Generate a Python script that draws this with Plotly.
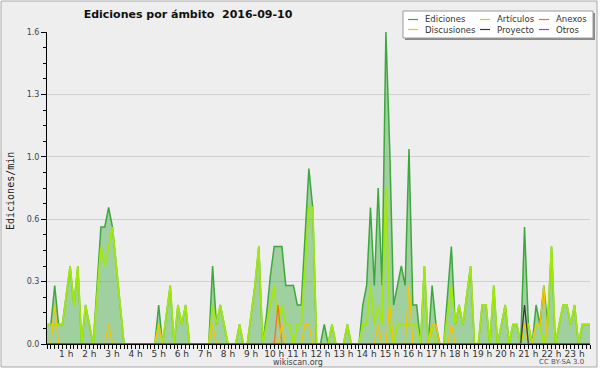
import plotly.graph_objects as go

# ---- data (edits per minute, 10-minute buckets starting 00:10) ----
ediciones = [
    0.1, 0.1, 0.3, 0.1, 0.1, 0.25, 0.4, 0.2, 0.4, 0,
    0.2, 0.1, 0, 0.3, 0.6, 0.6, 0.7, 0.6, 0.4, 0.2,
    0, 0, 0, 0, 0, 0, 0, 0, 0, 0.2,
    0, 0.15, 0.3, 0, 0.2, 0.1, 0.2, 0, 0, 0,
    0, 0, 0, 0.4, 0.1, 0.2, 0.1, 0, 0, 0,
    0.1, 0, 0, 0.15, 0.3, 0.5, 0, 0.15, 0.35, 0.5,
    0.5, 0.5, 0.3, 0.3, 0.3, 0.2, 0.2, 0.55, 0.9, 0.7,
    0, 0, 0.1, 0, 0.1, 0, 0, 0, 0.1, 0,
    0, 0, 0.2, 0.3, 0.7, 0.3, 0.8, 0.3, 1.6, 1.0,
    0.2, 0.3, 0.4, 0.3, 1.0, 0.2, 0.2, 0, 0.4, 0,
    0.3, 0.1, 0, 0, 0.25, 0.5, 0.1, 0.2, 0.1, 0.25,
    0.4, 0, 0, 0.2, 0.2, 0, 0.3, 0, 0.1, 0.2,
    0, 0.1, 0.1, 0, 0.6, 0.1, 0, 0.2, 0.1, 0.3,
    0.1, 0.5, 0, 0.1, 0.2, 0.2, 0.1, 0.2, 0, 0.1,
    0.1, 0.1,
]
articulos = [
    0.1, 0.1, 0.1, 0.1, 0.1, 0.25, 0.4, 0.2, 0.4, 0,
    0.2, 0.1, 0, 0.25, 0.5, 0.4, 0.5, 0.6, 0.4, 0.2,
    0, 0, 0, 0, 0, 0, 0, 0, 0, 0.1,
    0, 0.15, 0.3, 0, 0.2, 0.1, 0.2, 0, 0, 0,
    0, 0, 0, 0.2, 0.1, 0.2, 0.1, 0, 0, 0,
    0.1, 0, 0, 0.15, 0.3, 0.5, 0, 0.1, 0.2, 0.3,
    0.1, 0.2, 0.1, 0.1, 0, 0.1, 0.1, 0.4, 0.7, 0.7,
    0, 0, 0, 0, 0.1, 0, 0, 0, 0.1, 0,
    0, 0, 0.1, 0.1, 0.3, 0.1, 0.2, 0.1, 0.8, 0.1,
    0, 0.1, 0.1, 0.1, 0.1, 0.1, 0.1, 0, 0.4, 0,
    0.1, 0, 0, 0, 0.15, 0.3, 0.1, 0.2, 0.1, 0.25,
    0.4, 0, 0, 0.2, 0.2, 0, 0.3, 0, 0.1, 0.2,
    0, 0.1, 0.1, 0, 0.1, 0.1, 0, 0.1, 0.1, 0,
    0.1, 0.5, 0, 0.1, 0.2, 0.2, 0.1, 0.2, 0, 0.1,
    0.1, 0.1,
]
anexos = [0] * 60 + [0.2] + [0] * 81
discusiones = [
    0, 0, 0.2, 0, 0, 0, 0, 0, 0, 0,
    0, 0, 0, 0, 0, 0, 0.1, 0, 0, 0,
    0, 0, 0, 0, 0, 0, 0, 0, 0, 0.1,
    0, 0, 0, 0, 0, 0, 0, 0, 0, 0,
    0, 0, 0, 0.1, 0, 0, 0, 0, 0, 0,
    0, 0, 0, 0, 0, 0, 0, 0, 0, 0,
    0, 0.1, 0, 0, 0, 0, 0, 0.1, 0.1, 0,
    0, 0, 0, 0, 0, 0, 0, 0, 0, 0,
    0, 0, 0, 0, 0, 0, 0.1, 0, 0, 0.2,
    0, 0, 0, 0, 0.3, 0, 0, 0, 0, 0,
    0.1, 0.1, 0, 0, 0, 0.1, 0, 0, 0, 0,
    0, 0, 0, 0, 0, 0, 0, 0, 0, 0,
    0, 0, 0, 0, 0.1, 0, 0, 0.1, 0.1, 0.3,
    0, 0, 0, 0, 0, 0, 0, 0, 0, 0,
    0, 0,
]
proyecto = [0] * 124 + [0.2] + [0] * 17
otros = [0] * 142

hour_labels = ["1 h", "2 h", "3 h", "4 h", "5 h", "6 h", "7 h", "8 h", "9 h", "10 h",
               "11 h", "12 h", "13 h", "14 h", "15 h", "16 h", "17 h", "18 h", "19 h",
               "20 h", "21 h", "22 h", "23 h"]
y_tick_vals = [0, 0.32, 0.64, 0.96, 1.28, 1.6]
y_tick_text = ["0.0", "0.3", "0.6", "1.0", "1.3", "1.6"]

minutes = [10 * (k + 1) for k in range(len(ediciones))]
hour_pos = [60 * (k + 1) for k in range(len(hour_labels))]

C_ED = "#3ea83e"
C_ART = "#a2e80c"
C_ANX = "#ff6a33"
C_DIS = "#f7c500"
C_PRO = "#3a3a3a"
C_OTR = "#9a3cff"

fig = go.Figure()
fig.add_trace(go.Scatter(x=minutes, y=ediciones, mode="lines", name="Ediciones",
                         line=dict(color=C_ED, width=1.5), fill="tozeroy",
                         fillcolor="rgba(68,170,68,0.46)", showlegend=False))
fig.add_trace(go.Scatter(x=minutes, y=articulos, mode="lines", name="Artículos",
                         line=dict(color=C_ART, width=1.8), showlegend=False))
fig.add_trace(go.Scatter(x=minutes, y=anexos, mode="lines", name="Anexos",
                         line=dict(color=C_ANX, width=1.3), showlegend=False))
fig.add_trace(go.Scatter(x=minutes, y=discusiones, mode="lines", name="Discusiones",
                         line=dict(color=C_DIS, width=1.3), showlegend=False))
fig.add_trace(go.Scatter(x=minutes, y=proyecto, mode="lines", name="Proyecto",
                         line=dict(color=C_PRO, width=1.3), showlegend=False))
fig.add_trace(go.Scatter(x=minutes, y=otros, mode="lines", name="Otros",
                         line=dict(color=C_OTR, width=1), showlegend=False))

L, R, T, B = 47, 10, 32, 26
W, H = 600, 370
PW, PH = W - L - R, H - T - B


def px(x):
    return (x - L) / PW


def py(y):
    return (H - B - y) / PH


shapes = [
    # outer frame
    dict(type="rect", xref="paper", yref="paper", x0=px(1), x1=px(597), y0=py(1), y1=py(367),
         line=dict(color="#a8a8a8", width=1), fillcolor="#eeeeee", layer="below"),
    # legend shadow + box
    dict(type="rect", xref="paper", yref="paper", x0=px(405), x1=px(595), y0=py(13), y1=py(40),
         line=dict(width=0), fillcolor="#8a8a8a", layer="above"),
    dict(type="rect", xref="paper", yref="paper", x0=px(403), x1=px(593), y0=py(11), y1=py(38),
         line=dict(color="#9a9a9a", width=1), fillcolor="#ffffff", layer="above"),
]
annotations = []
leg = [("Ediciones", C_ED, 408, 19.5), ("Artículos", C_ART, 480, 19.5), ("Anexos", C_ANX, 539, 19.5),
       ("Discusiones", C_DIS, 408, 29.5), ("Proyecto", C_PRO, 480, 29.5), ("Otros", C_OTR, 539, 29.5)]
for name, col, x0, y0 in leg:
    shapes.append(dict(type="line", xref="paper", yref="paper", x0=px(x0), x1=px(x0 + 10),
                       y0=py(y0), y1=py(y0), line=dict(color=col, width=1.2), layer="above"))
    annotations.append(dict(text=name, xref="paper", yref="paper", x=px(x0 + 15), y=py(y0),
                            xanchor="left", yanchor="middle", showarrow=False,
                            font=dict(family="DejaVu Sans", size=8.5, color="#333333")))

annotations += [
    dict(text="Ediciones/min", xref="paper", yref="paper", x=px(10), y=py(191), textangle=-90,
         xanchor="center", yanchor="middle", showarrow=False,
         font=dict(family="DejaVu Sans Mono", size=10, color="#222222")),
    dict(text="wikiscan.org", xref="paper", yref="paper", x=px(298), y=py(362),
         xanchor="center", yanchor="middle", showarrow=False,
         font=dict(family="DejaVu Sans", size=8, color="#444444")),
    dict(text="CC BY-SA 3.0", xref="paper", yref="paper", x=px(561), y=py(362),
         xanchor="center", yanchor="middle", showarrow=False,
         font=dict(family="DejaVu Sans", size=7, color="#555555")),
]

fig.update_layout(
    width=W, height=H,
    margin=dict(l=L, r=R, t=T, b=B, pad=0),
    paper_bgcolor="#ffffff",
    plot_bgcolor="#eff0f2",
    title=dict(text="<b>Ediciones por ámbito \u00a02016-09-10</b>", x=188 / W, xanchor="center",
               y=1 - 14 / H, yanchor="middle",
               font=dict(family="DejaVu Sans", size=11, color="#111111")),
    shapes=shapes,
    annotations=annotations,
    showlegend=False,
    xaxis=dict(range=[10, 1420], showline=True, linecolor="#000000", linewidth=1,
               showgrid=False, zeroline=False,
               tickvals=hour_pos, ticktext=hour_labels, ticks="outside", ticklen=4,
               tickcolor="#000000", tickwidth=1, ticklabelstandoff=-3,
               tickfont=dict(family="DejaVu Sans", size=9, color="#333333"),
               minor=dict(tick0=10, dtick=10, ticks="outside", ticklen=4, tickcolor="#000000",
                          tickwidth=1, showgrid=False),
               fixedrange=True),
    yaxis=dict(range=[0, 1.6], showline=True, linecolor="#000000", linewidth=1,
               showgrid=True, gridcolor="#cfcfcf", gridwidth=1, zeroline=False,
               tickvals=y_tick_vals, ticktext=y_tick_text, ticks="outside", ticklen=5,
               tickcolor="#000000", tickwidth=1,
               tickfont=dict(family="DejaVu Sans", size=8, color="#444444"),
               minor=dict(tick0=0, dtick=0.08, ticks="outside", ticklen=3, tickcolor="#000000",
                          tickwidth=1, showgrid=False),
               fixedrange=True),
)

fig.write_html("out.html", config={"displayModeBar": False, "staticPlot": True},
               post_script="document.body.style.margin='0';document.body.style.overflow='hidden';")
